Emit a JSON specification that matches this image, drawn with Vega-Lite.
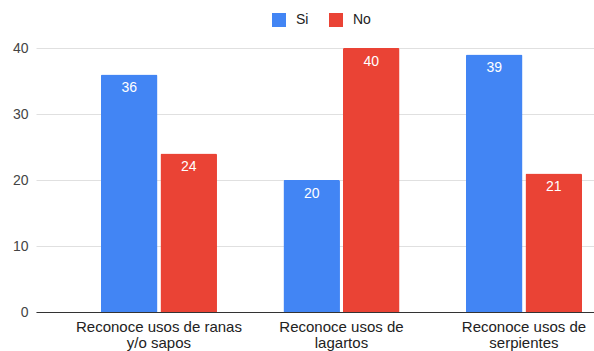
{
  "$schema": "https://vega.github.io/schema/vega-lite/v6.json",
  "width": 558,
  "height": 264,
  "autosize": {"type": "none"},
  "padding": {"left": 36, "top": 48, "right": 0, "bottom": 39},
  "background": "white",
  "config": {
    "font": "Liberation Sans",
    "view": {"stroke": null}
  },
  "data": {
    "values": [
      {"grupo": "Reconoce usos de ranas\ny/o sapos", "respuesta": "Si", "valor": 36},
      {"grupo": "Reconoce usos de ranas\ny/o sapos", "respuesta": "No", "valor": 24},
      {"grupo": "Reconoce usos de\nlagartos", "respuesta": "Si", "valor": 20},
      {"grupo": "Reconoce usos de\nlagartos", "respuesta": "No", "valor": 40},
      {"grupo": "Reconoce usos de\nserpientes", "respuesta": "Si", "valor": 39},
      {"grupo": "Reconoce usos de\nserpientes", "respuesta": "No", "valor": 21}
    ]
  },
  "encoding": {
    "x": {
      "field": "grupo",
      "type": "nominal",
      "sort": null,
      "scale": {"paddingInner": 0.364, "paddingOuter": 0.2107, "align": 0.844},
      "axis": {
        "title": null,
        "labelAngle": 0,
        "labelExpr": "split(datum.label, '\\n')",
        "labelFontSize": 15,
        "labelColor": "#222222",
        "labelLineHeight": 16.5,
        "labelPadding": 7,
        "labelLimit": 300,
        "ticks": false,
        "domainColor": "#333333",
        "domainWidth": 1,
        "grid": false
      }
    },
    "xOffset": {
      "field": "respuesta",
      "type": "nominal",
      "sort": ["Si", "No"],
      "scale": {"paddingInner": 0.05, "paddingOuter": 0}
    },
    "y": {
      "field": "valor",
      "type": "quantitative",
      "scale": {"domain": [0, 40], "nice": false},
      "axis": {
        "title": null,
        "values": [0, 10, 20, 30, 40],
        "domain": false,
        "ticks": false,
        "labelFontSize": 14,
        "labelColor": "#444444",
        "labelPadding": 8,
        "gridColor": "#e0e0e0",
        "gridWidth": 1
      }
    }
  },
  "layer": [
    {
      "mark": {"type": "bar", "cornerRadiusEnd": 1.5},
      "encoding": {
        "color": {
          "field": "respuesta",
          "type": "nominal",
          "sort": ["Si", "No"],
          "scale": {"domain": ["Si", "No"], "range": ["#4285f4", "#ea4335"]},
          "legend": {
            "title": null,
            "orient": "none",
            "direction": "horizontal",
            "legendX": 236,
            "legendY": -35,
            "padding": 0,
            "symbolType": "square",
            "symbolSize": 196,
            "symbolStrokeWidth": 0,
            "labelFontSize": 14,
            "labelColor": "#222222",
            "labelOffset": 10,
            "columnPadding": 20
          }
        }
      }
    },
    {
      "mark": {"type": "text", "baseline": "middle", "dy": 13.5, "fontSize": 14, "color": "white"},
      "encoding": {
        "text": {"field": "valor", "type": "quantitative"}
      }
    }
  ]
}
